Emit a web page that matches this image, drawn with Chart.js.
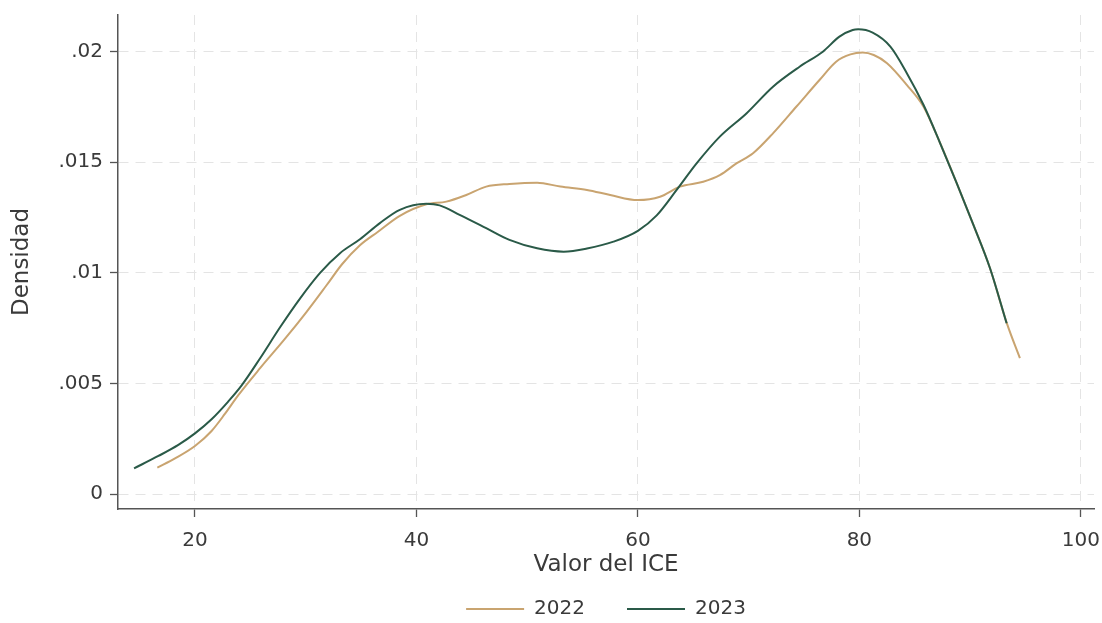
<!DOCTYPE html>
<html lang="es">
<head>
<meta charset="utf-8">
<title>Densidad del ICE 2022 y 2023</title>
<script src="https://cdn.jsdelivr.net/npm/chart.js@4/dist/chart.umd.min.js"></script>
<style>
  html, body { margin: 0; padding: 0; background: #ffffff; }
  #wrap { width: 1102px; height: 623px; }
</style>
</head>
<body>
<div id="wrap"><canvas id="chart" width="1102" height="623"></canvas></div>
<script>
// Kernel density of the ICE score, by year
const x2022 = [16.6, 18.2, 20.0, 21.5, 22.7, 23.9, 25.9, 28.1, 30.1, 31.9, 33.3, 34.9, 36.5, 38.5,
               40.9, 42.7, 44.5, 46.3, 48.4, 50.9, 53.0, 55.4, 57.5, 60.0, 62.0, 63.8, 65.9, 67.4,
               68.9, 70.4, 72.2, 74.3, 76.4, 77.9, 79.2, 80.3, 81.3, 82.5, 84.3, 85.8, 87.3, 88.8,
               90.3, 91.8, 93.3, 94.5];
const y2022 = [0.00119, 0.00161, 0.00217, 0.00285, 0.00362, 0.00446, 0.00570, 0.00700, 0.00825,
               0.00945, 0.01040, 0.01125, 0.01185, 0.01258, 0.01310, 0.01322, 0.01352, 0.01390,
               0.01402, 0.01408, 0.01390, 0.01375, 0.01352, 0.01329, 0.01344, 0.01390, 0.01412,
               0.01442, 0.01495, 0.01541, 0.01631, 0.01751, 0.01872, 0.01955, 0.01988, 0.01996,
               0.01985, 0.01948, 0.01849, 0.01751, 0.01586, 0.01405, 0.01217, 0.01021, 0.00775,
               0.00614];

const x2023 = [14.5, 16.7, 18.5, 20.0, 21.5, 23.0, 24.2, 25.9, 27.7, 29.5, 31.3, 33.1, 34.9, 36.7,
               38.5, 40.9, 42.1, 43.9, 46.3, 48.4, 50.9, 53.3, 55.4, 57.8, 60.0, 61.7, 63.5, 65.3,
               67.4, 69.8, 72.2, 74.6, 76.7, 78.2, 79.4, 79.9, 81.2, 82.8, 84.3, 85.8, 87.3, 88.8,
               90.3, 91.8, 93.3];
const y2023 = [0.00116, 0.00172, 0.00222, 0.00274, 0.00338, 0.00418, 0.00490, 0.00615, 0.00755,
               0.00885, 0.01000, 0.01089, 0.01152, 0.01225, 0.01285, 0.01312, 0.01305, 0.01262,
               0.01202, 0.01149, 0.01111, 0.01096, 0.01110, 0.01141, 0.01190, 0.01260, 0.01375,
               0.01495, 0.01616, 0.01721, 0.01842, 0.01932, 0.02000, 0.02068, 0.02098, 0.02101,
               0.02086, 0.02023, 0.01902, 0.01759, 0.01586, 0.01405, 0.01217, 0.01021, 0.00772];

const xTickValues = [20, 40, 60, 80, 100];
const yTickValues = [0, 0.005, 0.01, 0.015, 0.02];
const yTickLabels = ['0', '.005', '.01', '.015', '.02'];

const seriesNames = ['2022', '2023'];

const toPoints = (xs, ys) => xs.map((x, i) => ({ x: x, y: ys[i] }));

const TEXT = '#3a3a3a';
const AXIS = '#555555';
const GRID = '#e4e4e4';

Chart.defaults.font.family = "'DejaVu Sans', sans-serif";
Chart.defaults.font.size = 20;
Chart.defaults.color = TEXT;

// Keep the plot box fixed: no extra room reserved for edge tick labels
const noEdgePadding = (scale) => {
  scale.paddingLeft = 0;
  scale.paddingRight = 0;
  scale.paddingTop = 0;
  scale.paddingBottom = 0;
};

new Chart(document.getElementById('chart'), {
  type: 'line',
  data: {
    datasets: [
      {
        label: seriesNames[0],
        data: toPoints(x2022, y2022),
        borderColor: '#c9a470',
        backgroundColor: '#c9a470',
        borderWidth: 2,
        pointRadius: 0,
        cubicInterpolationMode: 'monotone',
        fill: false,
        order: 1
      },
      {
        label: seriesNames[1],
        data: toPoints(x2023, y2023),
        borderColor: '#2a5a48',
        backgroundColor: '#2a5a48',
        borderWidth: 2,
        pointRadius: 0,
        cubicInterpolationMode: 'monotone',
        fill: false,
        order: 0
      }
    ]
  },
  options: {
    responsive: false,
    animation: false,
    devicePixelRatio: 1,
    layout: { padding: { top: 15, right: 8, left: 0, bottom: -6 } },
    plugins: {
      tooltip: { enabled: false },
      legend: {
        position: 'bottom',
        fullSize: false,
        labels: {
          usePointStyle: true,
          pointStyle: 'line',
          pointStyleWidth: 58,
          padding: 42,
          color: TEXT,
          font: { size: 20 },
          sort: (a, b) => a.datasetIndex - b.datasetIndex
        }
      }
    },
    scales: {
      x: {
        type: 'linear',
        min: 13.05,
        max: 101.19,
        afterBuildTicks: (scale) => { scale.ticks = xTickValues.map(v => ({ value: v })); },
        afterFit: (scale) => { scale.height = 48; noEdgePadding(scale); },
        ticks: {
          padding: 12,
          maxRotation: 0,
          autoSkip: false,
          color: TEXT,
          callback: (v) => String(v)
        },
        grid: {
          color: GRID,
          lineWidth: 1,
          tickLength: 8,
          tickColor: AXIS,
          tickWidth: 1.3
        },
        border: { display: true, color: AXIS, width: 1.5, dash: [10, 7] },
        title: {
          display: true,
          text: 'Valor del ICE',
          color: TEXT,
          font: { size: 23 },
          padding: { top: 0, bottom: -22 }
        }
      },
      y: {
        type: 'linear',
        min: -0.000678,
        max: 0.02166,
        afterBuildTicks: (scale) => { scale.ticks = yTickValues.map(v => ({ value: v })); },
        afterFit: (scale) => { scale.width = 118; noEdgePadding(scale); },
        ticks: {
          padding: 7,
          autoSkip: false,
          color: TEXT,
          callback: (v) => {
            const i = yTickValues.findIndex(t => Math.abs(t - v) < 1e-9);
            return i >= 0 ? yTickLabels[i] : '';
          }
        },
        grid: {
          color: GRID,
          lineWidth: 1,
          tickLength: 8,
          tickColor: AXIS,
          tickWidth: 1.3
        },
        border: { display: true, color: AXIS, width: 1.5, dash: [10, 7] },
        title: {
          display: true,
          text: 'Densidad',
          color: TEXT,
          font: { size: 23 },
          padding: { top: 8, bottom: 0 }
        }
      }
    }
  }
});
</script>
</body>
</html>
